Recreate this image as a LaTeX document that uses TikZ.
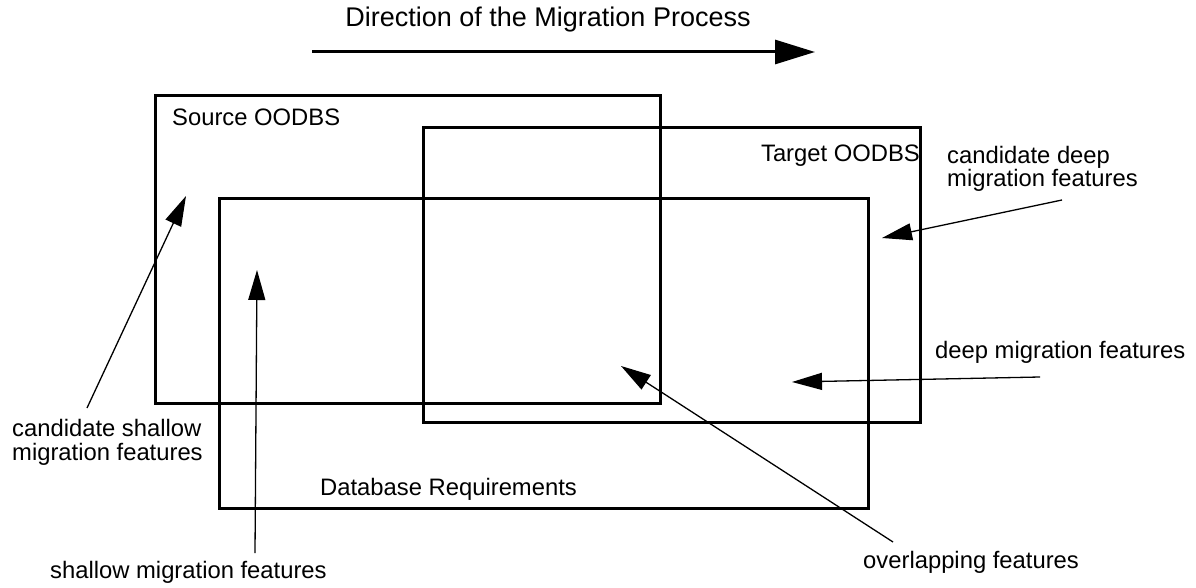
\documentclass[tikz,border=0pt]{standalone}
\usepackage{fontspec}
\setmainfont{Liberation Sans}
\usetikzlibrary{arrows.meta}

\begin{document}
\begin{tikzpicture}[x=1pt, y=-1pt,
        font=\fontsize{23.8}{24}\selectfont,
        area/.style={draw, line width=3pt},
        lbl/.style={inner sep=0pt, align=left, anchor=base west},
        pointer/.style={line width=1.3pt, -{Triangle[length=30pt, width=17pt]}}
    ]
    \useasboundingbox (0,0) rectangle (1196,588);

    % direction of the process
    \node[inner sep=0pt, anchor=base, font=\fontsize{27}{30}\selectfont] (title) at (548,27)
        {Direction of the Migration Process};
    \coordinate (dirA) at (312,52);
    \coordinate (dirB) at (815,52);
    \draw[line width=3pt, -{Triangle[length=40pt, width=24pt]}] (dirA) -- (dirB);

    % the three areas
    \draw[area] (155,96) rectangle (660,403);
    \draw[area] (423,128) rectangle (920,422);
    \draw[area] (219,199) rectangle (868,508);

    \node[lbl] (src) at (172,126) {Source OODBS};
    \node[lbl, anchor=base east] (tgt) at (920,162) {Target OODBS};
    \node[lbl] (req) at (320,495) {Database Requirements};

    % feature labels (base = last line)
    \node[lbl] (cdeep) at (947,187) {candidate deep\\migration features};
    \node[lbl] (deep) at (935,358) {deep migration features};
    \node[lbl] (cshallow) at (12,460) {candidate shallow\\migration features};
    \node[lbl] (shallow) at (50,578) {shallow migration features};
    \node[lbl] (overlap) at (863,568) {overlapping features};

    % pointers
    \coordinate (cdeepT) at (1062,200);  \coordinate (cdeepH) at (882,238);
    \coordinate (deepT) at (1040,377);   \coordinate (deepH) at (792,382);
    \coordinate (overT) at (893,542);    \coordinate (overH) at (621,366);
    \coordinate (shalT) at (255,553);    \coordinate (shalH) at (257,270);
    \coordinate (cshalT) at (87,408);    \coordinate (cshalH) at (186,196);

    \draw[pointer] (cdeepT) -- (cdeepH);
    \draw[pointer] (deepT) -- (deepH);
    \draw[pointer] (overT) -- (overH);
    \draw[pointer] (shalT) -- (shalH);
    \draw[pointer] (cshalT) -- (cshalH);
\end{tikzpicture}
\end{document}
